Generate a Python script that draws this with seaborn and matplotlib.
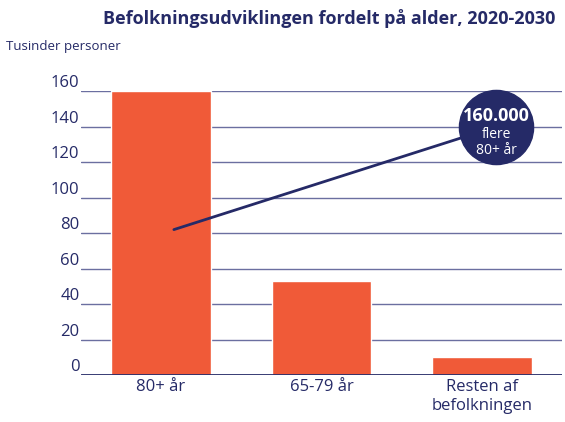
import matplotlib
matplotlib.use("Agg")
import matplotlib.pyplot as plt
import seaborn as sns
import pandas as pd

# data
grupper = ["80+ år", "65-79 år", "Resten af\nbefolkningen"]
tusinder = [160, 53, 10]
yticks = [0, 20, 40, 60, 80, 100, 120, 140, 160]

navy = "#252a67"
orange = "#f05a38"
grid = "#6b6fa0"

sns.set_theme(style="white")
plt.rcParams["font.family"] = ["Open Sans", "DejaVu Sans"]

df = pd.DataFrame({"gruppe": grupper, "tusinder": tusinder})

fig = plt.figure(figsize=(5.65, 4.22), dpi=100)
ax = fig.add_axes([0.143, 0.111, 0.852, 0.673])

sns.barplot(data=df, x="gruppe", y="tusinder", color=orange, width=0.62,
            saturation=1, ax=ax, zorder=2)

ax.set_ylim(0, 160)
ax.set_xlim(-0.5, 2.5)
ax.set_yticks(yticks)
for y in yticks[1:]:
    ax.axhline(y, color=grid, lw=1, zorder=1)
ax.axhline(0, color=navy, lw=2, zorder=3)

for s in ax.spines.values():
    s.set_visible(False)
ax.tick_params(axis="both", length=0, colors=navy, labelsize=12)
ax.tick_params(axis="y", pad=1)
ax.tick_params(axis="x", pad=3)
for lab in ax.get_yticklabels():
    lab.set_va("bottom")
ax.set_xlabel("")
ax.set_ylabel("")

# linje og boble
ax.plot([0.08, 2.09], [82, 140], color=navy, lw=2, zorder=4, clip_on=False)
ax.scatter([2.09], [140], s=2850, color=navy, zorder=5, clip_on=False)
ax.text(2.09, 146, "160.000", color="white", fontsize=13, fontweight="bold",
        ha="center", va="center", zorder=6)
ax.text(2.09, 135.5, "flere", color="white", fontsize=10,
        ha="center", va="center", zorder=6)
ax.text(2.09, 126.5, "80+ år", color="white", fontsize=10,
        ha="center", va="center", zorder=6)

fig.text(0.582, 0.955, "Befolkningsudviklingen fordelt på alder, 2020-2030",
         ha="center", va="center", color=navy, fontsize=13, fontweight="bold")
fig.text(0.01, 0.89, "Tusinder personer", ha="left", va="center",
         color=navy, fontsize=9.5)

fig.savefig("out.png", dpi=100)
